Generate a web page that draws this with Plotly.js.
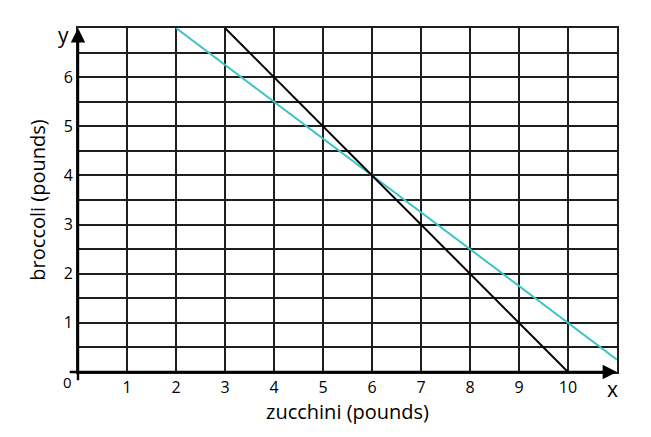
<!DOCTYPE html>
<html>
<head>
<meta charset="utf-8">
<script src="https://cdn.plot.ly/plotly-3.0.1.min.js"></script>
<style>html,body{margin:0;padding:0;background:#fff;}#chart{width:651px;height:437px;}</style>
</head>
<body>
<div id="chart"></div>
<script>
// Data
const blackX = [3, 10];
const blackY = [7, 0];
const cyanX = [2, 11];
const cyanY = [7, 0.25];
const xTickVals = [1, 2, 3, 4, 5, 6, 7, 8, 9, 10];
const xTickText = ['1', '2', '3', '4', '5', '6', '7', '8', '9', '10'];
const yTickVals = [1, 2, 3, 4, 5, 6];
const yTickText = ['1', '2', '3', '4', '5', '6'];
const xTitle = 'zucchini (pounds)';
const yTitle = 'broccoli (pounds)';

const FONT = 'Open Sans, Noto Sans, sans-serif';
const GRID = '#1e1e1e';

const traces = [
  {x: cyanX, y: cyanY, mode: 'lines', line: {color: '#3ec3c6', width: 2}, hoverinfo: 'skip', cliponaxis: false},
  {x: blackX, y: blackY, mode: 'lines', line: {color: '#000000', width: 2}, hoverinfo: 'skip', cliponaxis: false}
];

const layout = {
  width: 651, height: 437,
  margin: {l: 78, r: 34, t: 28, b: 65},
  paper_bgcolor: '#fff', plot_bgcolor: '#fff',
  showlegend: false,
  font: {family: FONT, size: 16, color: '#000'},
  xaxis: {
    range: [0, 11], autorange: false, fixedrange: true,
    tickmode: 'array', tickvals: xTickVals, ticktext: xTickText,
    showgrid: true, gridcolor: GRID, gridwidth: 2,
    minor: {tickmode: 'linear', tick0: 0, dtick: 1, showgrid: true, gridcolor: GRID, gridwidth: 2},
    zeroline: false, showline: true, mirror: true, linecolor: GRID, linewidth: 2, ticks: '',
    tickfont: {family: FONT, size: 16, color: '#000'},
    title: {text: xTitle, font: {family: FONT, size: 20, color: '#000'}, standoff: 7}
  },
  yaxis: {
    range: [0, 7], autorange: false, fixedrange: true,
    tickmode: 'array', tickvals: yTickVals, ticktext: yTickText,
    showgrid: true, gridcolor: GRID, gridwidth: 2,
    minor: {tickmode: 'linear', tick0: 0, dtick: 0.5, showgrid: true, gridcolor: GRID, gridwidth: 2},
    zeroline: false, showline: true, mirror: true, linecolor: GRID, linewidth: 2, ticks: '',
    tickfont: {family: FONT, size: 16, color: '#000'},
    title: {text: yTitle, font: {family: FONT, size: 20, color: '#000'}, standoff: 13}
  },
  annotations: [
    {x: 11, y: 0, ax: -0.2, ay: 0, axref: 'x', ayref: 'y', xref: 'x', yref: 'y', text: '',
     showarrow: true, arrowhead: 2, arrowsize: 1.2, arrowwidth: 2.4, arrowcolor: '#000'},
    {x: 0, y: 7, ax: 0, ay: -0.2, axref: 'x', ayref: 'y', xref: 'x', yref: 'y', text: '',
     showarrow: true, arrowhead: 2, arrowsize: 1.2, arrowwidth: 2.4, arrowcolor: '#000'},
    {x: 11, y: 0, xref: 'x', yref: 'y', text: 'x', showarrow: false, xshift: -5, yshift: -17,
     font: {family: FONT, size: 21, color: '#000'}},
    {x: 0, y: 7, xref: 'x', yref: 'y', text: 'y', showarrow: false, xshift: -15, yshift: -7,
     font: {family: FONT, size: 21, color: '#000'}},
    {x: 0, y: 0, xref: 'x', yref: 'y', text: '0', showarrow: false, xshift: -11, yshift: -10,
     font: {family: FONT, size: 15, color: '#000'}}
  ]
};

Plotly.newPlot('chart', traces, layout, {staticPlot: true, displayModeBar: false});
</script>
</body>
</html>
